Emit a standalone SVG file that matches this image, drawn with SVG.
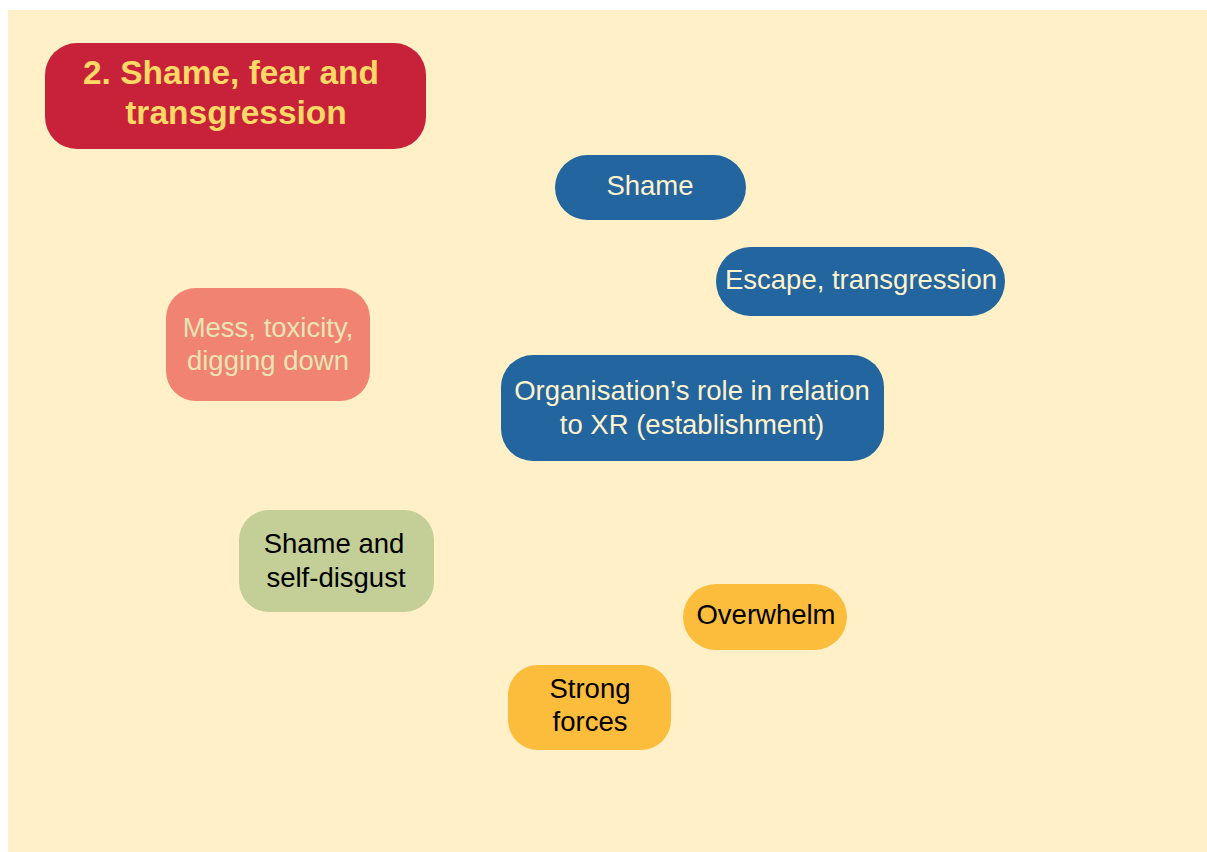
<svg xmlns="http://www.w3.org/2000/svg" width="1207" height="852" viewBox="0 0 1207 852">
  <style>
    text { font-family: "Liberation Sans", Arial, sans-serif; text-anchor: middle; }
    .title { font-size: 33.5px; font-weight: bold; fill: #FFD966; }
    .lbl { font-size: 27.5px; }
    .blue rect { fill: #23659E; }
    .blue text { fill: #FFF2CC; }
    .salmon rect { fill: #F08372; }
    .salmon text { fill: #E9E4B4; }
    .green rect { fill: #C3CF96; }
    .green text, .amber text { fill: #000000; }
    .amber rect { fill: #FBBD3B; }
  </style>
  <rect x="0" y="0" width="1207" height="852" fill="#FFFFFF"/>
  <rect x="8" y="10" width="1199" height="842" fill="#FFF0C8"/>

  <g id="title">
    <rect x="45" y="43" width="381" height="106" rx="32" fill="#C8223A"/>
    <text class="title"><tspan x="231" y="84">2. Shame, fear and</tspan><tspan x="236" y="124">transgression</tspan></text>
  </g>

  <g id="shame" class="blue">
    <rect x="555" y="155" width="191" height="65" rx="32.5"/>
    <text class="lbl" x="650" y="195">Shame</text>
  </g>

  <g id="escape" class="blue">
    <rect x="716" y="247" width="289" height="69" rx="34.5"/>
    <text class="lbl" x="861" y="289">Escape, transgression</text>
  </g>

  <g id="mess" class="salmon">
    <rect x="166" y="288" width="204" height="113" rx="30"/>
    <text class="lbl"><tspan x="268" y="337">Mess, toxicity,</tspan><tspan x="268" y="370">digging down</tspan></text>
  </g>

  <g id="organisation" class="blue">
    <rect x="501" y="355" width="383" height="106" rx="32"/>
    <text class="lbl"><tspan x="692" y="400">Organisation’s role in relation</tspan><tspan x="692" y="434">to XR (establishment)</tspan></text>
  </g>

  <g id="self-disgust" class="green">
    <rect x="239" y="510" width="195" height="102" rx="30"/>
    <text class="lbl"><tspan x="334" y="553">Shame and</tspan><tspan x="336" y="587">self-disgust</tspan></text>
  </g>

  <g id="overwhelm" class="amber">
    <rect x="683" y="584" width="164" height="66" rx="33"/>
    <text class="lbl" x="766" y="624">Overwhelm</text>
  </g>

  <g id="strong-forces" class="amber">
    <rect x="508" y="665" width="163" height="85" rx="30"/>
    <text class="lbl"><tspan x="590" y="698">Strong</tspan><tspan x="590" y="731">forces</tspan></text>
  </g>

  <g id="connectors"></g>
</svg>
